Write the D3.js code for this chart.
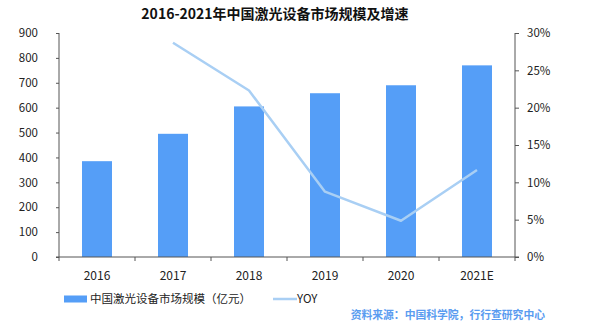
<!DOCTYPE html>
<html>
<head>
<meta charset="utf-8">
<script src="https://cdn.jsdelivr.net/npm/d3@7"></script>
<style>
  html, body { margin: 0; padding: 0; background: #fff; }
  svg { display: block; font-family: "Noto Sans CJK SC", "Noto Sans", sans-serif; }
</style>
</head>
<body>
<svg id="chart" width="600" height="326"></svg>
<script>
// Market size of laser equipment in China (100 million yuan) and year-on-year growth
const years = ["2016", "2017", "2018", "2019", "2020", "2021E"];
const marketSize = [385, 495, 605, 658, 690, 770];
const yoyYears = ["2017", "2018", "2019", "2020", "2021E"];
const yoy = [0.287, 0.223, 0.0875, 0.0486, 0.1165];
const leftTicks = [0, 100, 200, 300, 400, 500, 600, 700, 800, 900];
const rightTicks = [0, 0.05, 0.10, 0.15, 0.20, 0.25, 0.30];

const svg = d3.select("#chart");
const margin = { left: 59, right: 85, top: 33, bottom: 69 };
const W = 600, H = 326;
const x0 = margin.left, x1 = W - margin.right;
const y0 = H - margin.bottom, y1 = margin.top;

const barColor = "#559ef7";
const lineColor = "#a9cff4";
const axisColor = "#555";
const textColor = "#222";

const x = d3.scaleBand().domain(years).range([x0, x1]).paddingInner(0.6).paddingOuter(0.3);
const xOuter = d3.scaleBand().domain(years).range([x0, x1]);
const yL = d3.scaleLinear().domain([0, 900]).range([y0, y1]);
const yR = d3.scaleLinear().domain([0, 0.30]).range([y0, y1]);

// Title
svg.append("text")
  .attr("x", 275).attr("y", 19)
  .attr("text-anchor", "middle")
  .attr("font-size", 14).attr("font-weight", "bold").attr("fill", "#111")
  .text("2016-2021年中国激光设备市场规模及增速");

// Bars
svg.append("g").selectAll("rect")
  .data(years.map((d, i) => ({ year: d, v: marketSize[i] })))
  .join("rect")
  .attr("x", d => xOuter(d.year) + xOuter.bandwidth() / 2 - 15)
  .attr("width", 30)
  .attr("y", d => yL(d.v))
  .attr("height", d => y0 - yL(d.v))
  .attr("fill", barColor);

// YOY line
const line = d3.line()
  .x((d, i) => xOuter(yoyYears[i]) + xOuter.bandwidth() / 2)
  .y(d => yR(d));
svg.append("path")
  .datum(yoy)
  .attr("d", line)
  .attr("fill", "none")
  .attr("stroke", lineColor)
  .attr("stroke-width", 2.5)
  .attr("stroke-linejoin", "round");

// Left axis
const gL = svg.append("g").attr("transform", `translate(${x0},0)`)
  .call(d3.axisLeft(yL).tickValues(leftTicks).tickSize(3).tickPadding(18).tickFormat(d3.format("d")));
// Right axis
const gR = svg.append("g").attr("transform", `translate(${x1},0)`)
  .call(d3.axisRight(yR).tickValues(rightTicks).tickSize(4).tickPadding(8).tickFormat(d3.format(".0%")));
// Bottom axis: ticks sit at category boundaries
const gB = svg.append("g").attr("transform", `translate(0,${y0})`)
  .call(d3.axisBottom(xOuter).tickSize(0).tickPadding(14));
gB.selectAll(".tick text").attr("font-size", 12);
gB.append("g").selectAll("line")
  .data(years.slice(1))
  .join("line")
  .attr("x1", d => xOuter(d)).attr("x2", d => xOuter(d))
  .attr("y1", 0).attr("y2", 4)
  .attr("stroke", axisColor);
gB.append("line").attr("x1", x0).attr("x2", x0).attr("y1", 0).attr("y2", 4).attr("stroke", axisColor);
gB.append("line").attr("x1", x1).attr("x2", x1).attr("y1", 0).attr("y2", 4).attr("stroke", axisColor);

[gL, gR, gB].forEach(g => {
  g.selectAll(".domain").attr("stroke", axisColor).attr("d", null);
  g.selectAll(".tick line").attr("stroke", axisColor);
  g.selectAll(".tick text").attr("fill", textColor).attr("font-family", "'Noto Sans CJK SC', 'Noto Sans', sans-serif");
});
gL.selectAll(".tick text").attr("font-size", 11.5);
gR.selectAll(".tick text").attr("font-size", 11.5);
// Straight axis lines
gL.select(".domain").remove();
gR.select(".domain").remove();
gB.select(".domain").remove();
svg.append("line").attr("x1", x0).attr("x2", x0).attr("y1", y1).attr("y2", y0).attr("stroke", axisColor);
svg.append("line").attr("x1", x1).attr("x2", x1).attr("y1", y1).attr("y2", y0).attr("stroke", axisColor);
svg.append("line").attr("x1", x0 - 3).attr("x2", x1 + 4).attr("y1", y0).attr("y2", y0).attr("stroke", axisColor);

// Legend
const lg = svg.append("g").attr("font-size", 11.5).attr("fill", textColor);
lg.append("rect").attr("x", 64).attr("y", 295.5).attr("width", 23).attr("height", 7).attr("fill", barColor);
lg.append("text").attr("x", 90).attr("y", 303).text("中国激光设备市场规模（亿元）");
lg.append("line").attr("x1", 273).attr("x2", 297).attr("y1", 299).attr("y2", 299)
  .attr("stroke", lineColor).attr("stroke-width", 2.5);
lg.append("text").attr("x", 297).attr("y", 303).text("YOY");

// Source note
svg.append("text")
  .attr("x", 545).attr("y", 318.5)
  .attr("text-anchor", "end")
  .attr("font-size", 10.8).attr("font-weight", "bold").attr("fill", "#5a9cf0")
  .text("资料来源：中国科学院，行行查研究中心");
</script>
</body>
</html>
